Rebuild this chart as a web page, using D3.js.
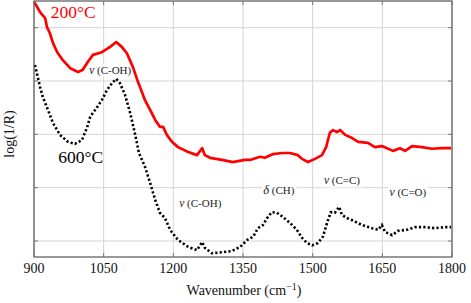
<!DOCTYPE html>
<html>
<head>
<meta charset="utf-8">
<script src="https://cdn.jsdelivr.net/npm/d3@7"></script>
<style>
  body { margin: 0; background: #fff; }
</style>
</head>
<body>
<script>
// spectra: wavenumber (cm-1) and log(1/R) (arbitrary offset)
var wn200 = [900, 902, 913, 924, 928, 934, 941, 950, 962, 978, 995, 1005, 1016, 1027, 1046, 1064, 1077, 1089, 1100, 1113,
  1124, 1129, 1139, 1150, 1161, 1171, 1178, 1186, 1197, 1210, 1232, 1251, 1262, 1268, 1279, 1305, 1328, 1354, 1365, 1380,
  1387, 1397, 1415, 1434, 1451, 1468, 1477, 1490, 1505, 1520, 1529, 1537, 1544, 1552, 1559, 1570, 1585, 1598, 1619, 1634,
  1649, 1660, 1673, 1688, 1699, 1714, 1735, 1757, 1778, 1798];
var ab200 = [4.48, 4.46, 4.29, 4.18, 4.01, 3.90, 3.71, 3.54, 3.39, 3.24, 3.17, 3.21, 3.36, 3.49, 3.54, 3.64, 3.73, 3.64, 3.52, 3.26,
  2.98, 2.87, 2.64, 2.46, 2.27, 2.14, 2.14, 1.99, 1.86, 1.76, 1.67, 1.61, 1.74, 1.61, 1.56, 1.52, 1.48, 1.52, 1.52, 1.56,
  1.58, 1.56, 1.63, 1.65, 1.65, 1.61, 1.54, 1.48, 1.54, 1.61, 1.76, 2.03, 2.08, 2.04, 2.08, 1.99, 1.93, 1.86, 1.84, 1.76,
  1.78, 1.74, 1.69, 1.74, 1.69, 1.78, 1.76, 1.73, 1.74, 1.74];

var wn600 = [902, 906, 913, 919, 930, 941, 956, 973, 988, 1003, 1014, 1021, 1036, 1046, 1057, 1068, 1077, 1085, 1096, 1107,
  1117, 1126, 1139, 1150, 1161, 1171, 1182, 1193, 1210, 1232, 1251, 1262, 1268, 1283, 1305, 1326, 1344, 1359, 1372, 1382,
  1393, 1402, 1412, 1423, 1436, 1451, 1466, 1477, 1488, 1499, 1511, 1522, 1531, 1539, 1548, 1557, 1563, 1574, 1585, 1606,
  1628, 1641, 1649, 1656, 1671, 1684, 1703, 1720, 1742, 1763, 1785, 1798];
var ab600 = [3.30, 3.15, 2.89, 2.70, 2.46, 2.21, 1.99, 1.86, 1.82, 1.89, 2.12, 2.33, 2.51, 2.64, 2.83, 2.96, 3.04, 2.96, 2.74, 2.40,
  2.03, 1.65, 1.39, 1.09, 0.77, 0.53, 0.43, 0.21, 0.02, -0.11, -0.17, -0.02, -0.13, -0.23, -0.21, -0.19, -0.11, 0.02, 0.08, 0.24,
  0.30, 0.43, 0.54, 0.53, 0.45, 0.34, 0.21, 0.06, -0.04, -0.08, -0.04, 0.08, 0.34, 0.54, 0.53, 0.64, 0.49, 0.43, 0.39, 0.30,
  0.24, 0.21, 0.30, 0.17, 0.11, 0.19, 0.21, 0.26, 0.26, 0.24, 0.26, 0.26];

var xTicks = [900, 1050, 1200, 1350, 1500, 1650, 1800];
var yTicks = [0, 1, 2, 3, 4];

// band labels: text, wavenumber, level
var bandNames = ["C-OH", "C-OH", "CH", "C=C", "C=O"];
var bandSym = ["ν", "ν", "δ", "ν", "ν"];
var bandWn = [1064, 1258, 1427, 1563, 1705];
var bandLevel = [3.13, 0.64, 0.88, 1.06, 0.85];

var serif = "'Liberation Serif', 'Times New Roman', Times, serif";

var margin = {top: 1, right: 19, bottom: 46, left: 34},
    width = 471 - margin.left - margin.right,
    height = 303 - margin.top - margin.bottom;

var x = d3.scaleLinear().domain([900, 1800]).range([0, width]);
var y = d3.scaleLinear().domain([-0.3, 4.5]).range([height, 0]);

var svg = d3.select("body").append("svg")
    .attr("width", 471)
    .attr("height", 303)
    .attr("font-family", serif)
  .append("g")
    .attr("transform", "translate(" + margin.left + "," + margin.top + ")");

// grid
svg.append("g").selectAll("line.gx").data(xTicks).enter().append("line")
    .attr("x1", d => x(d)).attr("x2", d => x(d))
    .attr("y1", 0).attr("y2", height)
    .attr("stroke", "#d4d4d4").attr("stroke-width", 1);
svg.append("g").selectAll("line.gy").data(yTicks).enter().append("line")
    .attr("x1", 0).attr("x2", width)
    .attr("y1", d => y(d)).attr("y2", d => y(d))
    .attr("stroke", "#d4d4d4").attr("stroke-width", 1);

// band labels with white backing (cut the grid)
var labels = svg.append("g");
bandNames.forEach(function(name, i) {
  var g = labels.append("g");
  var t = g.append("text")
      .attr("x", x(bandWn[i]))
      .attr("y", y(bandLevel[i]))
      .attr("text-anchor", "middle")
      .attr("font-family", serif)
      .attr("font-size", 11)
      .attr("fill", "#222");
  t.append("tspan").attr("font-style", "italic").attr("font-size", i == 2 ? 12.5 : 11.5).text(bandSym[i]);
  t.append("tspan").text(" (" + name + ")");
  var bb = t.node().getBBox();
  g.insert("rect", "text")
      .attr("x", bb.x - 2).attr("y", bb.y)
      .attr("width", bb.width + 4).attr("height", bb.height)
      .attr("fill", "#fff");
});

// curves
var line = d3.line()
    .x(d => x(d[0]))
    .y(d => y(d[1]));

svg.append("path")
    .datum(wn200.map((w, i) => [w, ab200[i]]))
    .attr("fill", "none")
    .attr("stroke", "#ff0000")
    .attr("stroke-width", 2.7)
    .attr("stroke-linejoin", "round")
    .attr("d", line);

svg.append("path")
    .datum(wn600.map((w, i) => [w, ab600[i]]))
    .attr("fill", "none")
    .attr("stroke", "#000")
    .attr("stroke-width", 2.6)
    .attr("stroke-dasharray", "2.2,2.2")
    .attr("d", line);

// frame and inward ticks
svg.append("rect")
    .attr("x", 0).attr("y", 0)
    .attr("width", width).attr("height", height)
    .attr("fill", "none").attr("stroke", "#555").attr("stroke-width", 1.2);

var tk = svg.append("g").attr("stroke", "#777").attr("stroke-width", 1);
xTicks.forEach(function(d) {
  tk.append("line").attr("x1", x(d)).attr("x2", x(d)).attr("y1", 0).attr("y2", 4);
  tk.append("line").attr("x1", x(d)).attr("x2", x(d)).attr("y1", height).attr("y2", height - 4);
});
yTicks.forEach(function(d) {
  tk.append("line").attr("x1", 0).attr("x2", 4).attr("y1", y(d)).attr("y2", y(d));
  tk.append("line").attr("x1", width).attr("x2", width - 4).attr("y1", y(d)).attr("y2", y(d));
});

// x tick labels
svg.append("g").selectAll("text").data(xTicks).enter().append("text")
    .attr("x", d => x(d))
    .attr("y", height + 16)
    .attr("text-anchor", "middle")
    .attr("font-family", serif)
    .attr("font-size", 14)
    .attr("fill", "#111")
    .text(d => d);

// axis titles
var xt = svg.append("text")
    .attr("x", width / 2 + 1)
    .attr("y", height + 38)
    .attr("text-anchor", "middle")
    .attr("font-family", serif)
    .attr("font-size", 14)
    .attr("fill", "#111");
xt.append("tspan").text("Wavenumber (cm");
xt.append("tspan").attr("dy", -5).attr("font-size", 10).text("−1");
xt.append("tspan").attr("dy", 5).text(")");

svg.append("text")
    .attr("transform", "translate(" + (-20) + "," + (height / 2 + 5) + ") rotate(-90)")
    .attr("text-anchor", "middle")
    .attr("font-family", serif)
    .attr("font-size", 14)
    .attr("fill", "#111")
    .text("log(1/R)");

// temperature labels
svg.append("text")
    .attr("x", x(936)).attr("y", y(4.19))
    .attr("font-family", serif)
    .attr("font-size", 17.5)
    .attr("fill", "#ff0000")
    .text("200°C");
svg.append("text")
    .attr("x", x(952)).attr("y", y(1.46))
    .attr("font-family", serif)
    .attr("font-size", 17.5)
    .attr("fill", "#000")
    .text("600°C");
</script>
</body>
</html>
